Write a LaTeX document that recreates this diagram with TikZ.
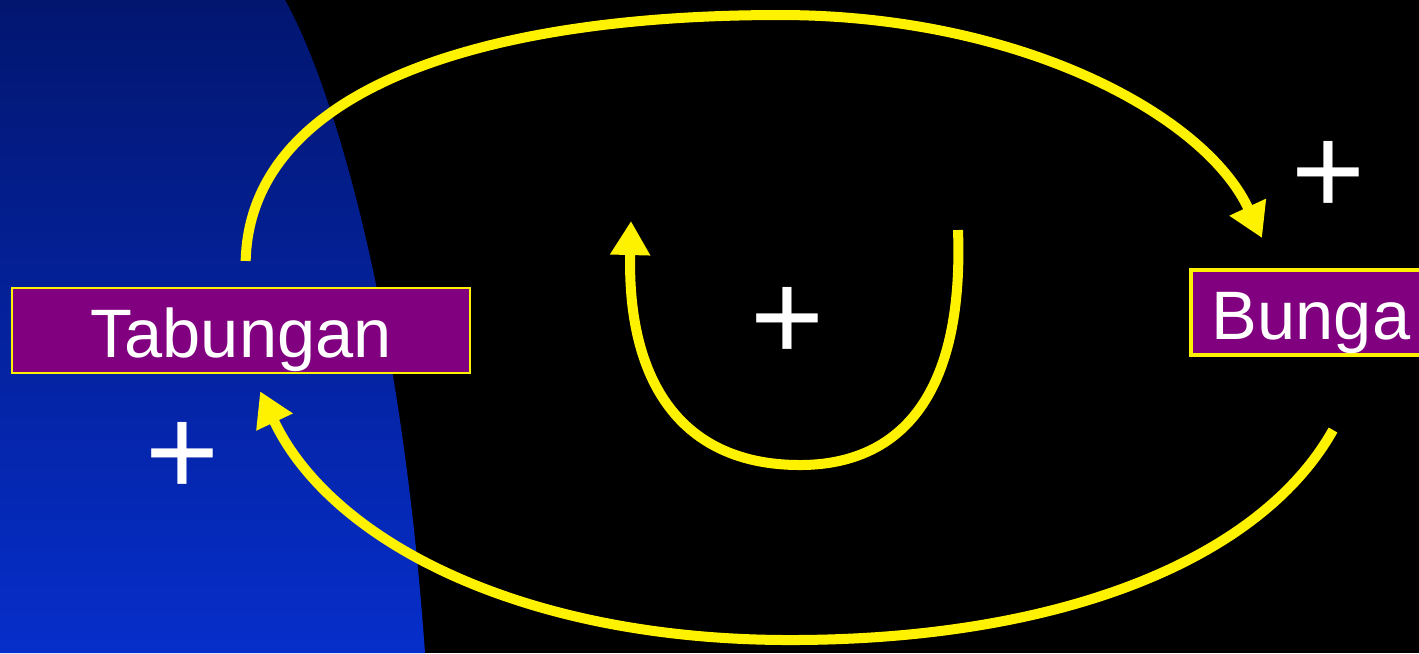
\documentclass[tikz,border=0pt]{standalone}
\usepackage{fontspec}
\setmainfont{Liberation Sans}
\usetikzlibrary{arrows.meta}
\definecolor{navytop}{RGB}{2,22,112}
\definecolor{navymid}{RGB}{0,40,160}
\definecolor{royalbot}{RGB}{6,46,202}
\definecolor{boxpurple}{RGB}{128,0,128}
\begin{document}
\begin{tikzpicture}[x=0.01cm, y=-0.01cm,
    varbox/.style={draw=yellow, fill=boxpurple, text=white, inner sep=0pt,
      minimum height=0.85cm, text height=15.6pt, text depth=0pt,
      font=\fontsize{19.5}{22}\selectfont},
    arrowline/.style={draw=yellow, line width=0.1cm,
      -{Triangle[length=0.34cm, width=0.38cm]}},
    sign/.style={text=white, inner sep=0pt, font=\fontsize{36}{40}\selectfont}]
  \clip (0,0) rectangle (1419,653);
  % background
  \fill[black] (0,0) rectangle (1419,653);
  \shade[top color=navytop, middle color=navymid, bottom color=royalbot]
    (0,0) -- (285,0) .. controls (330,80) and (400,300) .. (425,653) -- (0,653) -- cycle;
  % variables
  \node[varbox, line width=0.6pt, minimum width=4.58cm] (tab) at (241,330.5) {Tabungan};
  \node[varbox, line width=1.2pt, minimum width=2.40cm] (bunga) at (1311,312.5) {Bunga};
  % polarity signs
  \node[sign] (ptop) at (1328,178) {+};
  \node[sign] (pmid) at (787,324) {+};
  \node[sign] (pbot) at (182,459) {+};
  % free ends
  \coordinate (topend) at (1262,238);
  \coordinate (botstart) at (1333,430);
  \coordinate (ustart) at (958,230);
  \coordinate (uend) at (631,221);
  % outer loop
  \draw[arrowline, shorten <=0.26cm] ([xshift=0.04cm]tab.north)
    .. controls (250,90) and (480,15) .. (780,15)
    .. controls (1020,15) and (1205,115) .. (topend);
  \draw[arrowline, shorten >=0.19cm] (botstart)
    .. controls (1260,560) and (1060,640) .. (790,640)
    .. controls (520,640) and (330,540) .. ([xshift=0.11cm]tab.south);
  % inner loop
  \draw[arrowline] (ustart)
    .. controls (965,420) and (880,465) .. (800,465)
    .. controls (680,465) and (627,380) .. (uend);
\end{tikzpicture}
\end{document}
